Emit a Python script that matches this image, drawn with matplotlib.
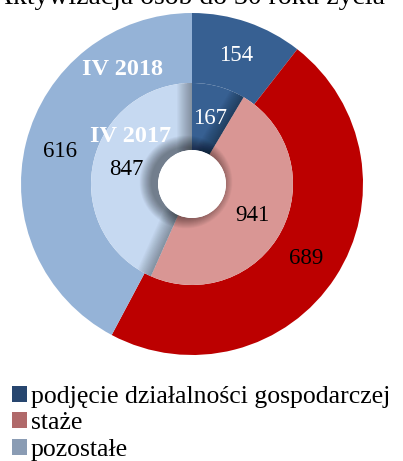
import numpy as np
import matplotlib.pyplot as plt
from matplotlib.patches import Patch, Wedge, Circle, Polygon

# -------------------------
# Data
# -------------------------
categories = ["podjęcie działalności gospodarczej", "staże", "pozostałe"]
values_2018 = [154, 689, 616]   # outer ring, IV 2018
values_2017 = [167, 941, 847]   # inner ring, IV 2017
title = "Aktywizacja osób do 30 roku życia"

colors_2018 = ["#376092", "#BC0000", "#95B3D7"]
colors_2017 = ["#376092", "#D99694", "#C6D9F1"]
legend_colors = ["#27466F", "#B0696A", "#8A9CB4"]
text_2018 = ["white", "black", "black"]
text_2017 = ["white", "black", "black"]

plt.rcParams["font.family"] = ["Liberation Serif", "DejaVu Serif"]

W, H = 403, 461
fig = plt.figure(figsize=(W / 100, H / 100), dpi=100)
ax = fig.add_axes([0, 0, 1, 1])

cx, cy = 192, H - 184
r_out, r_mid, r_hole = 171, 101, 34


def fmt(vals):
    total = sum(vals)
    return lambda p: f"{p * total / 100:.0f}"


w1, _, t1 = ax.pie(values_2018, radius=r_out, center=(cx, cy), startangle=90,
                   counterclock=False, colors=colors_2018, autopct=fmt(values_2018),
                   pctdistance=(r_out + r_mid) / 2 / r_out,
                   wedgeprops=dict(width=r_out - r_mid, linewidth=0),
                   textprops=dict(fontsize=16.5))
w2, _, t2 = ax.pie(values_2017, radius=r_mid, center=(cx, cy), startangle=90,
                   counterclock=False, colors=colors_2017, autopct=fmt(values_2017),
                   pctdistance=(r_mid + r_hole) / 2 / r_mid,
                   wedgeprops=dict(width=r_mid - r_hole, linewidth=0),
                   textprops=dict(fontsize=16.5))
for t, c in zip(t1, text_2018):
    t.set_color(c)
for t, c in zip(t2, text_2017):
    t.set_color(c)

# -------------------------
# Shading on the inner ring (light from the right)
# -------------------------
ring = Wedge((cx, cy), r_mid, 0, 360, width=r_mid - r_hole, transform=ax.transData)

# shadows left of the wedge borders
for w in w2:
    th = np.deg2rad(w.theta2)
    u = np.array([np.cos(th), np.sin(th)])
    n = np.array([-u[1], u[0]])
    if n[0] > 0:
        n = -n
    p0 = np.array([cx, cy]) + u * (r_hole - 2)
    p1 = np.array([cx, cy]) + u * (r_mid + 2)
    for d in np.arange(1, 16, 1.0):
        poly = Polygon([p0, p1, p1 + n * d, p0 + n * d], closed=True,
                       facecolor="black", alpha=0.025, linewidth=0, zorder=2)
        ax.add_patch(poly)
        poly.set_clip_path(ring)

# shadow around the hole
for k in np.arange(1, 13, 0.5):
    c = Circle((cx - 6, cy + 2), r_hole + k, facecolor="black", alpha=0.018,
               linewidth=0, zorder=2)
    ax.add_patch(c)
    c.set_clip_path(ring)
ax.add_patch(Circle((cx, cy), r_hole, facecolor="white", linewidth=0, zorder=3))

ax.text(123, H - 70, "IV 2018", color="white", fontsize=17.5, fontweight="bold",
        ha="center", va="center", zorder=5)
ax.text(131, H - 137, "IV 2017", color="white", fontsize=17.5, fontweight="bold",
        ha="center", va="center", zorder=5)
for t in t2:
    t.set_zorder(5)

# title, cut off at top like in the original
ax.text(189, H - 4, title, fontsize=20, ha="center", va="baseline")

ax.set_xlim(0, W)
ax.set_ylim(0, H)
ax.set_aspect("auto")
ax.axis("off")

handles = [Patch(facecolor=c, edgecolor="none") for c in legend_colors]
fig.legend(handles, categories, loc="upper left", bbox_to_anchor=(0.03, 0.163),
           frameon=False, fontsize=18.5, handlelength=0.58, handleheight=0.58,
           handletextpad=0.16, labelspacing=0.17, borderaxespad=0, borderpad=0)

fig.savefig("out.png", dpi=100)
